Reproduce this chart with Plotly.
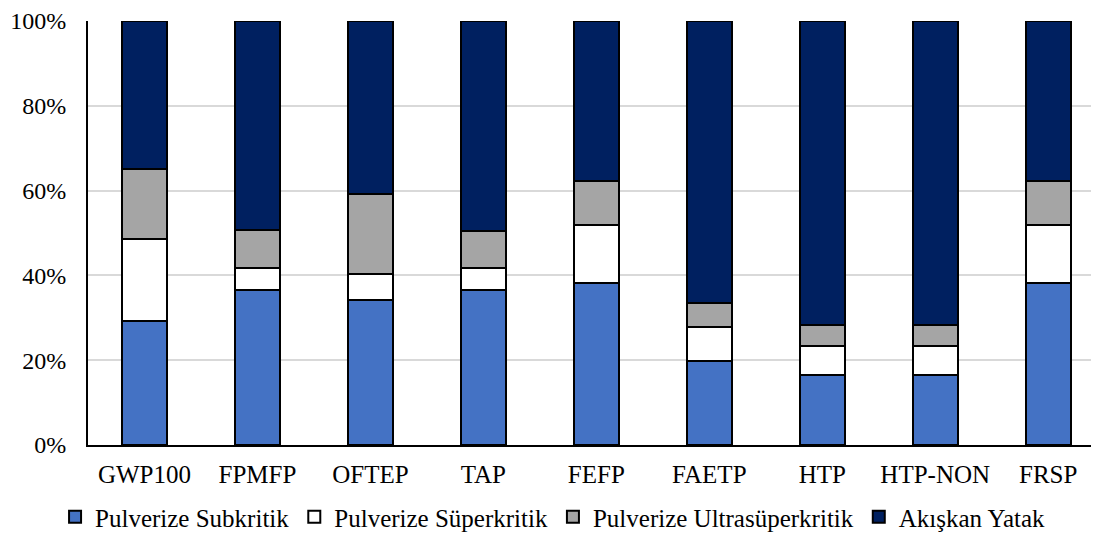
import plotly.graph_objects as go

categories = ["GWP100", "FPMFP", "OFTEP", "TAP", "FEFP", "FAETP", "HTP", "HTP-NON", "FRSP"]
subkritik = [29.3, 36.6, 34.3, 36.5, 38.1, 19.9, 16.4, 16.4, 38.1]
superkritik = [19.4, 5.2, 6.0, 5.2, 13.7, 8.0, 6.9, 6.9, 13.7]
ultrasuperkritik = [16.5, 8.9, 18.8, 8.7, 10.4, 5.7, 5.0, 5.0, 10.4]
akiskan = [round(100 - a - b - c, 1) for a, b, c in zip(subkritik, superkritik, ultrasuperkritik)]

series = [
    ("Pulverize Subkritik", subkritik, "#4472C4"),
    ("Pulverize Süperkritik", superkritik, "#FFFFFF"),
    ("Pulverize Ultrasüperkritik", ultrasuperkritik, "#A5A5A5"),
    ("Akışkan Yatak", akiskan, "#002060"),
]

fig = go.Figure()
for name, vals, color in series:
    fig.add_trace(go.Bar(
        x=categories, y=vals, name=name,
        marker=dict(color=color, line=dict(color="#000000", width=2)),
        width=0.4,
    ))

font = "Liberation Serif"
fig.update_layout(
    barmode="stack",
    width=1091, height=532,
    margin=dict(l=80, r=0, t=10, b=92),
    paper_bgcolor="white", plot_bgcolor="white",
    font=dict(family=font, size=25, color="#000000"),
    showlegend=True,
    legend=dict(orientation="h", x=0.46, xanchor="center",
                y=-0.17, yanchor="middle",
                font=dict(family=font, size=25, color="#000000"),
                itemwidth=30, traceorder="normal", itemclick=False),
    xaxis=dict(range=[-0.5, 8.45], showline=True, linecolor="#000000", linewidth=2,
               ticks="", tickfont=dict(family=font, size=25), showgrid=False,
               ticklabelstandoff=6),
    yaxis=dict(range=[0, 100], tickvals=[0, 20, 40, 60, 80, 100],
               ticktext=["0%", "20%", "40%", "60%", "80%", "100%"],
               showline=True, linecolor="#000000", linewidth=2,
               showgrid=True, gridcolor="#D9D9D9", gridwidth=1.5,
               tickfont=dict(family=font, size=24), ticks="", zeroline=False,
               ticklabelstandoff=15, ticklabeloverflow="allow"),
)

fig.write_html("out.html")
